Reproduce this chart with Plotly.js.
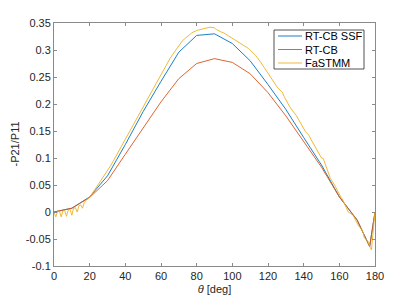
<!DOCTYPE html>
<html><head><meta charset="utf-8">
<script src="https://cdn.plot.ly/plotly-3.0.1.min.js"></script>
<style>html,body{margin:0;padding:0;background:#fff;}#plot{width:415px;height:301px;}</style>
</head><body><div id="plot"></div>
<script>
// RT-CB SSF and RT-CB sampled angles
const thetaCoarse = [0,10,20,30,40,50,60,70,80,90,100,110,120,130,140,150,160,170,177,180];
const rtcbSSF = [0,0.007,0.028,0.067,0.125,0.186,0.242,0.296,0.327,0.330,0.312,0.280,0.236,0.190,0.138,0.087,0.028,-0.015,-0.064,0.000];
const rtcb    = [0,0.007,0.027,0.058,0.107,0.155,0.204,0.247,0.275,0.284,0.277,0.256,0.221,0.178,0.131,0.083,0.028,-0.015,-0.064,0.000];
// FaSTMM at 1-degree steps, 0..180
const thetaFine = [];
for (let i = 0; i <= 180; i++) thetaFine.push(i);
const fastmm = [
0.000,-0.009,0.001,0.002,-0.009,0.002,0.003,-0.008,0.004,0.005,
-0.006,0.007,0.008,0.000,0.012,0.013,0.007,0.018,0.021,0.024,
0.028,0.032,0.037,0.041,0.046,0.051,0.056,0.061,0.066,0.070,
0.075,0.081,0.087,0.093,0.099,0.105,0.110,0.116,0.122,0.128,
0.134,0.140,0.146,0.152,0.158,0.165,0.171,0.177,0.183,0.190,
0.196,0.202,0.208,0.214,0.220,0.226,0.232,0.238,0.244,0.250,
0.256,0.262,0.267,0.273,0.279,0.284,0.289,0.294,0.299,0.304,
0.309,0.313,0.317,0.320,0.323,0.326,0.328,0.331,0.333,0.335,
0.336,0.337,0.338,0.339,0.340,0.341,0.342,0.342,0.342,0.342,
0.341,0.338,0.336,0.335,0.333,0.332,0.330,0.327,0.325,0.323,
0.321,0.319,0.317,0.315,0.313,0.311,0.309,0.307,0.305,0.303,
0.300,0.297,0.293,0.290,0.286,0.282,0.277,0.272,0.267,0.262,
0.256,0.250,0.245,0.240,0.236,0.232,0.228,0.225,0.222,0.214,
0.207,0.201,0.196,0.191,0.187,0.184,0.178,0.172,0.166,0.160,
0.154,0.149,0.145,0.142,0.135,0.129,0.123,0.117,0.111,0.106,
0.100,0.099,0.090,0.080,0.070,0.062,0.057,0.052,0.046,0.039,
0.032,0.027,0.022,0.014,0.006,0.000,-0.002,-0.004,-0.008,-0.015,
-0.022,-0.027,-0.030,-0.034,-0.048,-0.052,-0.054,-0.064,-0.070,-0.035,
0.000];
const xTicks = [0,20,40,60,80,100,120,140,160,180];
const yTicks = [-0.1,-0.05,0,0.05,0.1,0.15,0.2,0.25,0.3,0.35];
const yTickText = ['-0.1','-0.05','0','0.05','0.1','0.15','0.2','0.25','0.3','0.35'];

const names = ['RT-CB SSF','RT-CB','FaSTMM'];
const colors = ['#0072BD','#D95319','#EDB120'];
const xTitle = '<i>θ</i> [deg]';
const yTitle = '-P21/P11';

const series = [rtcbSSF, rtcb, fastmm];
const xs = [thetaCoarse, thetaCoarse, thetaFine];
const traces = series.map((s, i) => ({
  x: xs[i], y: s, name: names[i], mode: 'lines',
  line: {color: colors[i], width: 0.9}, showlegend: false
}));

const FONT = 'Liberation Sans, Arial, sans-serif';
const axisCommon = {
  showgrid: false, zeroline: false, showline: true, mirror: 'ticks',
  linecolor: '#8a8a8a', linewidth: 1, ticks: 'inside', ticklen: 3,
  tickcolor: '#8a8a8a', tickwidth: 1,
  tickfont: {family: FONT, size: 11, color: '#262626'}
};

// Plot area: x 54..375 px, y 23..266 px
const ML = 54, MT = 23, PW = 321, PH = 243;
const px2x = p => (p - ML) / PW;
const px2y = p => (MT + PH - p) / PH;
const legBox = {l: 274, r: 364, t: 30, b: 69};
const legRows = [36, 49.5, 63];
const shapes = [{
  type: 'rect', xref: 'paper', yref: 'paper',
  x0: px2x(legBox.l), x1: px2x(legBox.r), y0: px2y(legBox.b), y1: px2y(legBox.t),
  line: {color: '#262626', width: 0.8}, fillcolor: '#fff', layer: 'above'
}];
const annotations = [{
  xref: 'paper', yref: 'paper', x: px2x(14), y: 0.5, xanchor: 'center', yanchor: 'middle',
  textangle: -90, showarrow: false, text: yTitle,
  font: {family: FONT, size: 11, color: '#262626'}
}];
names.forEach((n, i) => {
  shapes.push({type: 'line', xref: 'paper', yref: 'paper',
    x0: px2x(278), x1: px2x(302), y0: px2y(legRows[i]), y1: px2y(legRows[i]),
    line: {color: colors[i], width: 0.9}, layer: 'above'});
  annotations.push({xref: 'paper', yref: 'paper', x: px2x(303), y: px2y(legRows[i]),
    xanchor: 'left', yanchor: 'middle', showarrow: false, text: n,
    font: {family: FONT, size: 11, color: '#000'}});
});

const layout = {
  width: 415, height: 301,
  margin: {l: ML, r: 415 - ML - PW, t: MT, b: 301 - MT - PH},
  paper_bgcolor: '#fff', plot_bgcolor: '#fff',
  showlegend: false,
  xaxis: Object.assign({}, axisCommon, {
    range: [0, 180], tickmode: 'array', tickvals: xTicks, ticktext: xTicks.map(String),
    title: {text: xTitle, standoff: 4, font: {family: FONT, size: 11, color: '#262626'}}
  }),
  yaxis: Object.assign({}, axisCommon, {
    range: [-0.1, 0.35], tickmode: 'array', tickvals: yTicks, ticktext: yTickText
  }),
  shapes: shapes,
  annotations: annotations
};

Plotly.newPlot('plot', traces, layout, {displayModeBar: false, staticPlot: true});
</script>
</body></html>
